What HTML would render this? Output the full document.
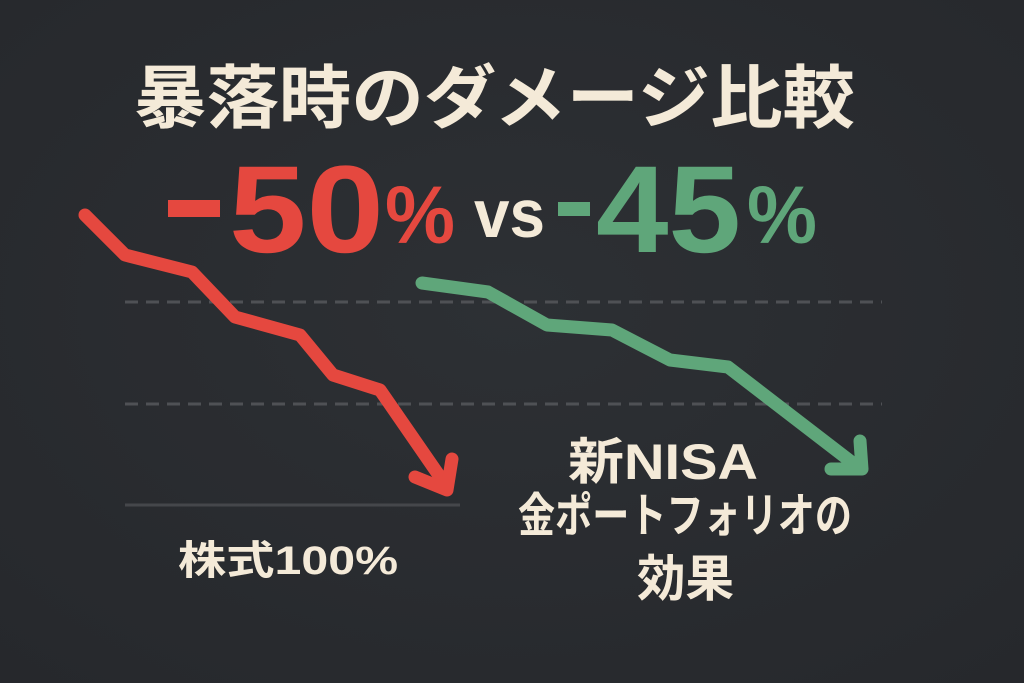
<!DOCTYPE html>
<html><head><meta charset="utf-8"><style>
html,body{margin:0;padding:0;background:#2a2c30;}
svg{display:block;}
</style></head><body>
<svg width="1024" height="683" viewBox="0 0 1024 683" xmlns="http://www.w3.org/2000/svg">
<defs>
<radialGradient id="bg" cx="50%" cy="45%" r="75%">
<stop offset="0" stop-color="#2d3034"/>
<stop offset="1" stop-color="#26282c"/>
</radialGradient>
</defs>
<rect width="1024" height="683" fill="url(#bg)"/>
<!-- grid lines -->
<line x1="125" y1="302" x2="882" y2="302" stroke="#4f5155" stroke-width="3" stroke-dasharray="13 8"/>
<line x1="125" y1="404" x2="882" y2="404" stroke="#4f5155" stroke-width="3" stroke-dasharray="13 8"/>
<line x1="125" y1="505" x2="460" y2="505" stroke="#45474b" stroke-width="3"/>
<!-- title -->
<text x="134" y="122" font-family="'Liberation Sans','Noto Sans CJK JP',sans-serif" font-weight="700" font-size="69" fill="#f4ead8" textLength="721" lengthAdjust="spacingAndGlyphs">暴落時のダメージ比較</text>
<!-- big numbers -->
<rect x="168" y="200" width="52" height="17" fill="#e5483f"/>
<text x="229" y="252" font-family="'Liberation Sans',sans-serif" font-weight="700" font-size="124" fill="#e5483f" textLength="155" lengthAdjust="spacingAndGlyphs">50</text>
<text x="385" y="243" font-family="'Liberation Sans',sans-serif" font-weight="700" font-size="82" fill="#e5483f" textLength="70" lengthAdjust="spacingAndGlyphs">%</text>
<text x="474" y="237" font-family="'Liberation Sans',sans-serif" font-weight="700" font-size="68" fill="#f4ead8" textLength="71" lengthAdjust="spacingAndGlyphs">vs</text>
<rect x="558" y="202" width="32" height="14" fill="#5fa67a"/>
<text x="596" y="252" font-family="'Liberation Sans',sans-serif" font-weight="700" font-size="124" fill="#5fa67a" textLength="145" lengthAdjust="spacingAndGlyphs">45</text>
<text x="747" y="243" font-family="'Liberation Sans',sans-serif" font-weight="700" font-size="82" fill="#5fa67a" textLength="70" lengthAdjust="spacingAndGlyphs">%</text>
<!-- red line -->
<polyline points="85,215 125,255 192,272 235,317 300,335 333,375 380,390 447,487" fill="none" stroke="#e5483f" stroke-width="13" stroke-linecap="round" stroke-linejoin="round"/>
<polyline points="415,477 447,490 452,459" fill="none" stroke="#e5483f" stroke-width="13" stroke-linecap="round" stroke-linejoin="round"/>
<!-- green line -->
<polyline points="422,283 488,292 547,325 612,330 670,360 728,367 858,467" fill="none" stroke="#5fa67a" stroke-width="13" stroke-linecap="round" stroke-linejoin="round"/>
<polyline points="831,469 862,469 860,441" fill="none" stroke="#5fa67a" stroke-width="13" stroke-linecap="round" stroke-linejoin="round"/>
<!-- labels -->
<text x="178" y="574" font-family="'Liberation Sans','Noto Sans CJK JP',sans-serif" font-weight="700" font-size="40" fill="#f4ead8" textLength="220" lengthAdjust="spacingAndGlyphs">株式100%</text>
<text x="568" y="479" font-family="'Liberation Sans','Noto Sans CJK JP',sans-serif" font-weight="700" font-size="50" fill="#f4ead8" textLength="190" lengthAdjust="spacingAndGlyphs">新NISA</text>
<text x="518" y="532" font-family="'Liberation Sans','Noto Sans CJK JP',sans-serif" font-weight="700" font-size="47" fill="#f4ead8" textLength="334" lengthAdjust="spacingAndGlyphs">金ポートフォリオの</text>
<text x="637" y="596" font-family="'Liberation Sans','Noto Sans CJK JP',sans-serif" font-weight="700" font-size="50" fill="#f4ead8" textLength="97" lengthAdjust="spacingAndGlyphs">効果</text>
</svg>
</body></html>
